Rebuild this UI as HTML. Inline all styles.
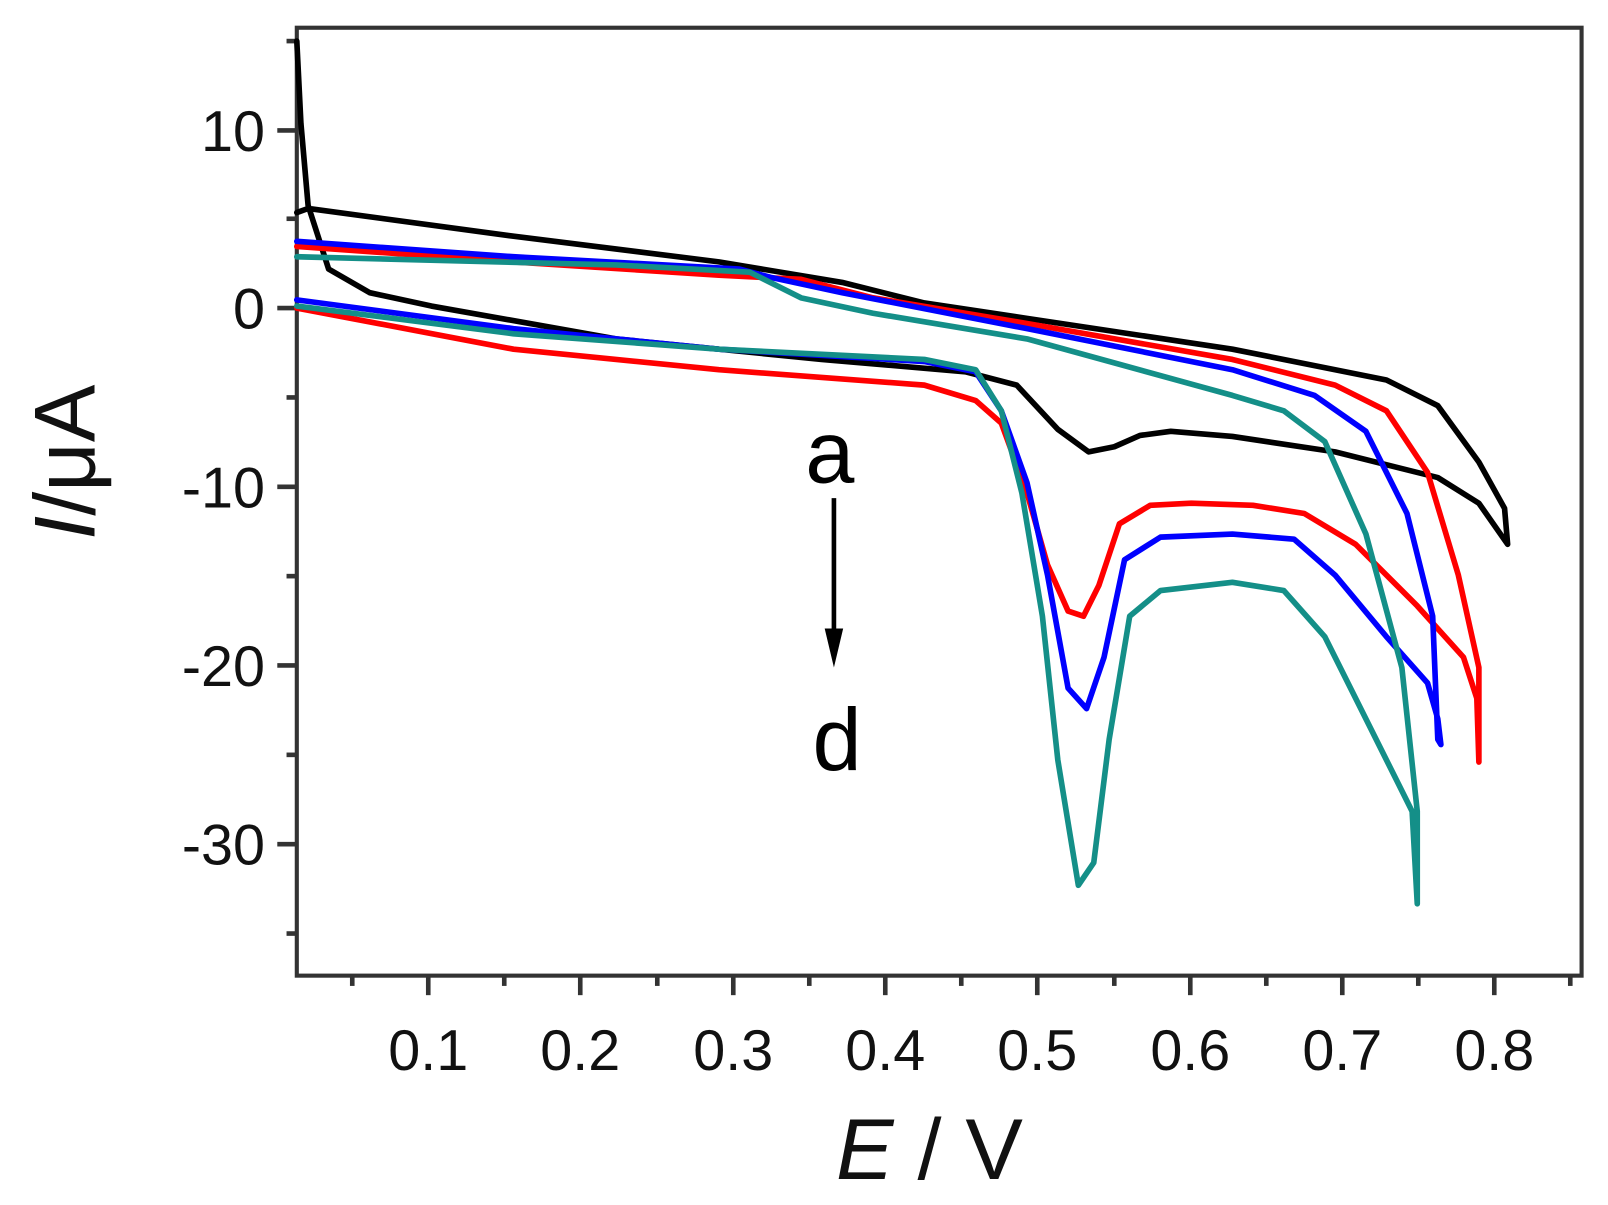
<!DOCTYPE html>
<html><head><meta charset="utf-8"><style>html,body{margin:0;padding:0;background:#fff}</style></head>
<body>
<svg width="1608" height="1200" viewBox="0 0 1608 1200" xmlns="http://www.w3.org/2000/svg" font-family="Liberation Sans, Arial, sans-serif">
<rect width="1608" height="1200" fill="#fff"/>
<g transform="scale(1.027)">
<rect x="289" y="27" width="1251" height="923" fill="none" stroke="#333" stroke-width="4"/>
<g stroke="#333" stroke-width="4.5">
<line x1="270" y1="127" x2="289" y2="127"/><line x1="270" y1="300" x2="289" y2="300"/><line x1="270" y1="474" x2="289" y2="474"/><line x1="270" y1="648" x2="289" y2="648"/><line x1="270" y1="822" x2="289" y2="822"/>
<line x1="279" y1="40" x2="289" y2="40"/><line x1="279" y1="213" x2="289" y2="213"/><line x1="279" y1="387" x2="289" y2="387"/><line x1="279" y1="561" x2="289" y2="561"/><line x1="279" y1="735" x2="289" y2="735"/><line x1="279" y1="909" x2="289" y2="909"/>
<line x1="417" y1="950" x2="417" y2="969"/><line x1="565" y1="950" x2="565" y2="969"/><line x1="714" y1="950" x2="714" y2="969"/><line x1="862" y1="950" x2="862" y2="969"/><line x1="1010" y1="950" x2="1010" y2="969"/><line x1="1159" y1="950" x2="1159" y2="969"/><line x1="1307" y1="950" x2="1307" y2="969"/><line x1="1455" y1="950" x2="1455" y2="969"/>
<line x1="343" y1="950" x2="343" y2="960"/><line x1="491" y1="950" x2="491" y2="960"/><line x1="640" y1="950" x2="640" y2="960"/><line x1="788" y1="950" x2="788" y2="960"/><line x1="936" y1="950" x2="936" y2="960"/><line x1="1085" y1="950" x2="1085" y2="960"/><line x1="1233" y1="950" x2="1233" y2="960"/><line x1="1381" y1="950" x2="1381" y2="960"/><line x1="1529" y1="950" x2="1529" y2="960"/>
</g>
<g font-size="56" fill="#111" text-anchor="end">
<text x="258" y="147">10</text><text x="258" y="320">0</text><text x="258" y="494">-10</text><text x="258" y="668">-20</text><text x="258" y="842">-30</text>
</g>
<g font-size="56" fill="#111" text-anchor="middle">
<text x="417" y="1042">0.1</text><text x="565" y="1042">0.2</text><text x="714" y="1042">0.3</text><text x="862" y="1042">0.4</text><text x="1010" y="1042">0.5</text><text x="1159" y="1042">0.6</text><text x="1307" y="1042">0.7</text><text x="1455" y="1042">0.8</text>
</g>
<text x="905" y="1148" font-size="84" text-anchor="middle" fill="#111"><tspan font-style="italic">E</tspan> / V</text>
<text transform="translate(92,450) rotate(-90)" font-size="84" text-anchor="middle" fill="#111"><tspan font-style="italic">I</tspan>/μA</text>
<g fill="none" stroke-width="5.5" stroke-linejoin="round" stroke-linecap="round">
<polyline stroke="#000" points="289,40 293,120 300,200 320,262 360,285 420,298 600,330 800,350 940,362 990,375 1030,418 1060,440 1085,435 1110,424 1140,420 1200,425 1300,440 1400,465 1440,490 1468,530 1465,495 1440,450 1400,395 1350,370 1200,340 1000,310 900,295 820,275 700,255 500,230 300,203 289,207"/>
<polyline stroke="#f00" points="289,300 500,340 700,360 900,375 950,390 975,412 1000,480 1020,550 1040,595 1055,600 1070,570 1090,510 1120,492 1160,490 1220,492 1270,500 1320,530 1380,590 1425,640 1438,680 1440,742 1440,650 1420,560 1390,460 1350,400 1300,375 1200,350 1000,315 850,290 780,272 700,268 500,255 289,240"/>
<polyline stroke="#00f" points="289,292 500,320 700,340 900,352 950,362 975,400 1000,470 1020,560 1040,670 1058,690 1075,640 1095,545 1130,523 1200,520 1260,525 1300,560 1350,620 1390,665 1400,700 1403,725 1400,720 1395,600 1370,500 1330,420 1280,385 1200,360 1000,320 820,285 750,270 720,262 500,250 289,235"/>
<polyline stroke="#148f88" points="289,298 500,325 700,340 900,350 950,360 975,400 995,480 1015,600 1030,740 1050,862 1065,840 1080,720 1100,600 1130,575 1200,567 1250,575 1290,620 1330,700 1360,760 1375,790 1380,880 1380,790 1365,650 1330,520 1290,430 1250,400 1200,385 1000,330 850,305 780,290 730,265 600,258 289,250"/>
</g>
<line x1="812" y1="485" x2="812" y2="620" stroke="#000" stroke-width="4.5"/>
<polygon points="803,612 821,612 812,650" fill="#000"/>
<text x="808" y="470" font-size="86" text-anchor="middle" fill="#000">a</text>
<text x="815" y="750" font-size="86" text-anchor="middle" fill="#000">d</text>
</g>
</svg>
</body></html>
